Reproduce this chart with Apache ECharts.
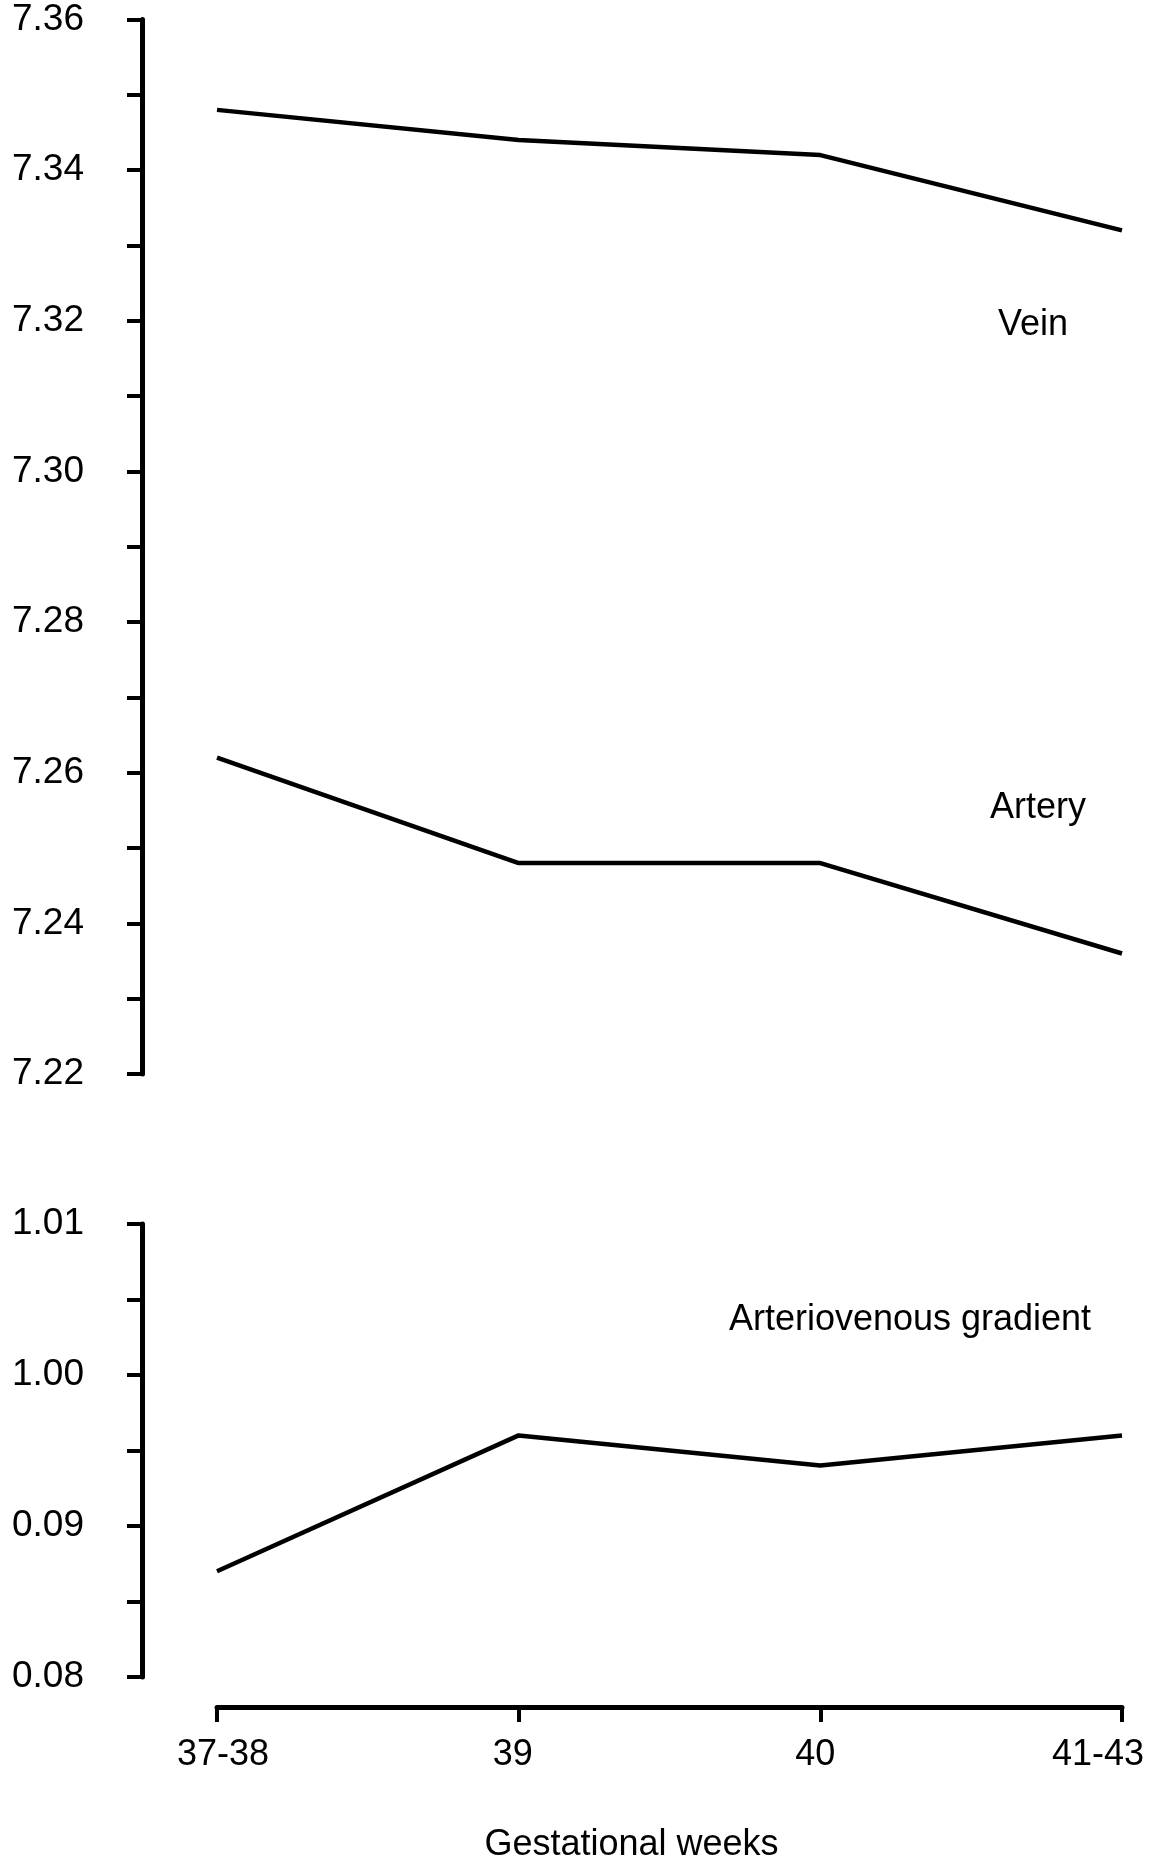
<!DOCTYPE html>
<html>
<head>
<meta charset="utf-8">
<title>Umbilical pH by gestational week</title>
<script src="https://cdn.jsdelivr.net/npm/echarts@6/dist/echarts.min.js"></script>
<style>
  html, body { margin: 0; padding: 0; background: #fff; }
  #chart { width: 1157px; height: 1865px; }
</style>
</head>
<body>
<div id="chart"></div>
<script>
  // data
  var categories = ['37-38', '39', '40', '41-43'];
  var vein = [7.348, 7.344, 7.342, 7.332];
  var artery = [7.262, 7.248, 7.248, 7.236];
  var gradient = [0.987, 0.996, 0.994, 0.996];
  var gradientTicks = [0.98, 0.99, 1.00, 1.01];
  var gradientTickLabels = ['0.08', '0.09', '1.00', '1.01'];

  // small shifts of the x labels, as in the original
  var xLabelPads = [[0, 0, 0, 12], [0, 12, 0, 0], [0, 10, 0, 0], [0, 48, 0, 0]];

  var font = 'Liberation Sans, Arial, sans-serif';
  var black = '#000';

  var myChart = echarts.init(document.getElementById('chart'));

  function yAxisBase(grid) {
    return {
      gridIndex: grid,
      type: 'value',
      offset: 75,
      axisLine: { show: true, lineStyle: { color: black, width: 5 } },
      axisTick: { show: true, length: 15, lineStyle: { color: black, width: 4 } },
      splitLine: { show: false },
      axisLabel: { color: black, fontSize: 37, fontFamily: font, margin: 58 }
    };
  }

  var yTop = yAxisBase(0);
  yTop.min = 7.22;
  yTop.max = 7.36;
  yTop.interval = 0.01;
  yTop.axisLabel.formatter = function (v) {
    return Math.round(v * 100) % 2 === 0 ? v.toFixed(2) : '';
  };

  var yBottom = yAxisBase(1);
  yBottom.min = 0.98;
  yBottom.max = 1.01;
  yBottom.interval = 0.005;
  yBottom.axisLabel.formatter = function (v) {
    for (var i = 0; i < gradientTicks.length; i++) {
      if (Math.abs(gradientTicks[i] - v) < 1e-6) return gradientTickLabels[i];
    }
    return '';
  };

  function lineSeries(name, x, y, values) {
    return {
      name: name,
      type: 'line',
      xAxisIndex: x,
      yAxisIndex: y,
      data: values,
      symbol: 'none',
      lineStyle: { color: black, width: 4.5 },
      silent: true
    };
  }

  function label(text, x, y) {
    return {
      type: 'text',
      x: x,
      y: y,
      style: {
        text: text,
        fill: black,
        font: '36px ' + font,
        textAlign: 'center',
        textVerticalAlign: 'middle',
        align: 'center',
        verticalAlign: 'middle'
      }
    };
  }

  myChart.setOption({
    animation: false,
    backgroundColor: '#fff',
    grid: [
      { left: 217, width: 905, top: 19.5, height: 1054.5 },
      { left: 217, width: 905, top: 1224, height: 453 }
    ],
    xAxis: [
      {
        gridIndex: 0,
        type: 'category',
        boundaryGap: false,
        data: categories,
        show: false
      },
      {
        gridIndex: 1,
        type: 'category',
        boundaryGap: false,
        offset: 30,
        data: categories.map(function (c, i) {
          return { value: c, textStyle: { padding: xLabelPads[i] } };
        }),
        axisLine: { show: true, lineStyle: { color: black, width: 5 } },
        axisTick: { show: true, length: 15, lineStyle: { color: black, width: 4 } },
        axisLabel: { color: black, fontSize: 36, fontFamily: font, margin: 30 },
        splitLine: { show: false },
        name: 'Gestational weeks',
        nameLocation: 'middle',
        nameGap: 120,
        nameTextStyle: { color: black, fontSize: 36, fontFamily: font, padding: [0, 76, 0, 0] }
      }
    ],
    yAxis: [yTop, yBottom],
    series: [
      lineSeries('Vein', 0, 0, vein),
      lineSeries('Artery', 0, 0, artery),
      lineSeries('Arteriovenous gradient', 1, 1, gradient)
    ],
    graphic: [
      label('Vein', 1033, 325),
      label('Artery', 1038, 808),
      label('Arteriovenous gradient', 910, 1320)
    ]
  });
</script>
</body>
</html>
